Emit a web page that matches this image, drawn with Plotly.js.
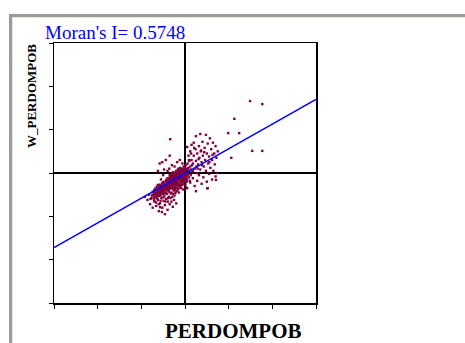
<!DOCTYPE html>
<html>
<head>
<meta charset="utf-8">
<script src="https://cdn.plot.ly/plotly-3.0.1.min.js"></script>
<style>
  html, body { margin: 0; padding: 0; background: #ffffff; }
  #wrap { position: relative; width: 465px; height: 343px; overflow: hidden; }
  #chart { position: absolute; left: 0; top: 0; width: 465px; height: 343px; }
  #frame { position: absolute; left: 9px; top: 14px; right: -10px; bottom: -10px;
           border-top: 3px solid #9a9a9a; border-left: 3px solid #9a9a9a; pointer-events: none; }
  #frame2 { position: absolute; left: 12px; top: 17px; right: -10px; bottom: -10px;
           border-top: 1px solid #e6e6dc; border-left: 1px solid #e6e6dc; pointer-events: none; }
</style>
</head>
<body>
<div id="wrap">
  <div id="chart"></div>
  <div id="frame"></div>
  <div id="frame2"></div>
</div>
<script>
// Standardized PERDOMPOB values (x) and their spatial lags W_PERDOMPOB (y)
var perdompob = [
  -0.42,-0.40,-0.38,-0.36,-0.35,-0.34,-0.33,-0.32,-0.31,-0.30,-0.29,-0.28,-0.27,-0.26,-0.25,-0.25,-0.24,-0.23,-0.22,-0.22,
  -0.21,-0.20,-0.20,-0.19,-0.18,-0.18,-0.17,-0.16,-0.16,-0.15,-0.15,-0.14,-0.13,-0.13,-0.12,-0.11,-0.11,-0.10,-0.10,-0.09,
  -0.08,-0.08,-0.07,-0.06,-0.06,-0.05,-0.05,-0.04,-0.03,-0.03,-0.02,-0.02,-0.01,0.00,0.00,0.01,0.02,0.02,0.03,0.04,
  0.05,0.05,0.06,0.07,0.08,0.09,0.10,0.10,0.12,0.13,0.14,0.15,0.16,0.17,0.18,-0.28,-0.24,-0.19,-0.14,-0.09,
  -0.04,0.02,-0.36,-0.30,-0.24,-0.18,-0.12,-0.06,
  -0.92,-0.86,-0.82,-0.80,-0.77,-0.74,-0.72,-0.70,-0.68,-0.66,-0.64,-0.62,-0.60,-0.59,-0.57,-0.56,-0.54,-0.52,-0.51,-0.49,
  -0.48,-0.47,-0.46,-0.45,-0.43,-0.42,-0.41,-0.40,-0.39,-0.37,-0.35,-0.33,-0.31,-0.28,-0.25,-0.20,-0.53,-0.46,-0.62,-0.55,
  -0.50,-0.58,-0.52,-0.44,-0.48,-0.40,-0.35,-0.62,
  -0.79,-0.75,-0.71,-0.69,-0.65,-0.63,-0.61,-0.58,-0.55,-0.53,-0.50,-0.47,-0.44,-0.43,-0.41,-0.38,-0.37,-0.34,-0.32,-0.29,
  -0.27,-0.26,-0.23,-0.21,-0.19,-0.17,-0.14,-0.12,-0.09,-0.07,-0.04,-0.02,0.01,0.03,0.06,-0.66,-0.60,-0.56,-0.49,-0.45,
  -0.39,-0.33,-0.29,-0.22,-0.16,-0.11,-0.05,0.00,0.04,-0.70,-0.52,-0.36,-0.27,-0.15,-0.08,0.07,0.11,
  -0.74,-0.74,-0.71,-0.71,-0.71,-0.68,-0.68,-0.68,-0.65,-0.65,-0.65,-0.63,-0.63,-0.63,-0.60,-0.60,-0.60,-0.60,
  -0.58,-0.58,-0.58,-0.55,-0.55,-0.55,-0.55,-0.53,-0.53,-0.53,-0.50,-0.50,-0.50,-0.50,-0.48,-0.48,-0.48,
  -0.45,-0.45,-0.45,-0.45,-0.43,-0.43,-0.43,-0.40,-0.40,-0.40,-0.40,-0.38,-0.38,-0.38,-0.35,-0.35,-0.35,-0.35,
  -0.33,-0.33,-0.33,-0.30,-0.30,-0.30,-0.30,-0.30,-0.28,-0.28,-0.28,-0.25,-0.25,-0.25,-0.25,
  -0.23,-0.23,-0.23,-0.23,-0.20,-0.20,-0.20,-0.20,-0.18,-0.18,-0.18,-0.15,-0.15,-0.15,-0.15,-0.15,
  -0.13,-0.13,-0.13,-0.10,-0.10,-0.10,-0.10,-0.08,-0.08,-0.08,-0.05,-0.05,-0.05,-0.05,-0.03,-0.03,-0.03,
  0.00,0.00,0.00,0.03,0.03,0.03,
  0.20,0.22,0.24,0.25,0.27,0.28,0.30,0.32,0.33,0.35,0.36,0.38,0.40,0.41,0.43,0.45,0.46,0.48,0.50,0.52,
  0.53,0.55,0.57,0.58,0.60,0.62,0.64,0.65,0.67,0.68,0.70,0.72,0.74,0.75,0.20,0.25,0.12,0.08,0.05,0.15,
  0.35,0.48,0.18,0.26,0.31,0.39,0.44,0.56,0.63,0.21,0.29,0.37,0.09,0.14,
  0.05,0.12,0.18,0.22,0.28,0.32,0.38,0.42,0.50,0.55,0.62,0.70,0.52,0.25,
  0.99,1.24,1.54,1.77,1.49,1.77,1.13,1.06,0.71,0.51,-0.34,-0.57
];
var wPerdompob = [
  -0.30,-0.18,-0.40,-0.25,-0.10,-0.33,-0.05,-0.20,-0.45,-0.28,-0.12,-0.36,0.02,-0.22,-0.08,-0.30,-0.15,-0.40,-0.02,-0.25,
  -0.10,-0.32,0.05,-0.18,-0.05,-0.28,-0.12,0.08,-0.22,-0.02,-0.35,-0.15,0.02,-0.08,-0.25,-0.12,0.12,-0.03,-0.20,-0.08,
  0.05,-0.15,-0.28,-0.05,0.10,-0.12,0.00,-0.20,-0.07,0.15,0.03,-0.14,-0.02,0.08,-0.10,-0.25,0.00,0.18,-0.06,0.10,
  -0.15,0.04,0.22,-0.03,0.12,-0.10,0.05,0.28,0.15,-0.05,0.08,0.30,0.18,0.02,0.22,-0.48,-0.52,-0.42,-0.45,-0.35,
  -0.38,-0.32,0.10,0.18,0.15,0.25,0.30,0.22,
  -0.55,-0.62,-0.50,-0.72,-0.58,-0.80,-0.45,-0.66,-0.54,-0.76,-0.40,-0.62,-0.88,-0.50,-0.70,-0.35,-0.58,-0.80,-0.45,-0.64,
  -0.28,-0.52,-0.74,-0.38,-0.60,-0.20,-0.48,-0.85,-0.66,-0.55,-0.72,-0.58,-0.66,-0.78,-0.62,-0.70,-0.90,-0.95,-0.28,-0.15,
  -0.05,0.22,0.25,0.30,0.08,0.05,0.40,0.05,
  -0.60,-0.52,-0.62,-0.48,-0.57,-0.44,-0.53,-0.40,-0.47,-0.36,-0.42,-0.33,-0.45,-0.28,-0.37,-0.30,-0.43,-0.22,-0.35,-0.18,
  -0.26,-0.40,-0.20,-0.35,-0.12,-0.24,-0.30,-0.08,-0.18,-0.22,-0.14,-0.04,-0.16,-0.09,-0.04,-0.68,-0.72,-0.64,-0.56,-0.66,
  -0.58,-0.47,-0.55,-0.46,-0.38,-0.30,-0.26,-0.18,-0.20,-0.40,-0.34,-0.14,-0.04,0.00,0.02,0.06,-0.18,
  -0.52,-0.44,-0.58,-0.40,-0.49,-0.46,-0.36,-0.55,-0.50,-0.42,-0.32,-0.60,-0.47,-0.38,-0.44,-0.34,-0.53,-0.27,
  -0.40,-0.48,-0.31,-0.45,-0.37,-0.28,-0.52,-0.41,-0.33,-0.24,-0.48,-0.38,-0.30,-0.21,-0.43,-0.34,-0.25,
  -0.46,-0.30,-0.20,-0.38,-0.35,-0.27,-0.16,-0.40,-0.31,-0.22,-0.12,-0.28,-0.19,-0.34,-0.37,-0.24,-0.15,-0.05,
  -0.29,-0.20,-0.11,-0.33,-0.23,-0.16,-0.06,0.00,-0.26,-0.18,-0.09,-0.21,-0.13,-0.04,-0.35,
  -0.27,-0.17,-0.08,0.00,-0.22,-0.14,-0.06,0.03,-0.19,-0.10,-0.01,-0.25,-0.16,-0.07,0.02,0.10,
  -0.12,-0.04,0.05,-0.17,-0.09,0.00,0.08,-0.13,-0.05,0.03,-0.08,0.01,0.09,-0.18,-0.11,-0.03,0.06,
  -0.05,0.03,0.12,-0.01,0.07,-0.12,
  0.40,0.10,0.55,0.28,0.00,0.45,0.20,0.62,0.35,0.08,0.50,0.25,0.72,0.40,0.15,0.58,0.30,0.05,0.45,0.68,
  0.22,0.38,0.80,0.12,0.55,0.30,0.70,0.05,0.45,0.20,0.62,0.35,0.00,0.50,0.70,0.85,0.50,0.40,0.60,0.65,
  0.90,0.88,0.05,0.15,0.32,0.18,0.48,0.25,0.42,0.58,0.10,0.52,0.30,0.45,
  -0.35,-0.22,-0.12,-0.30,-0.18,-0.05,-0.25,-0.10,-0.20,-0.02,-0.15,-0.08,-0.35,-0.42,
  0.92,0.92,0.51,0.51,1.66,1.59,1.25,0.35,-0.16,-0.35,0.78,-0.79
];
// Moran scatterplot regression line (slope = Moran's I)
var moranI = 0.5748;
var fitX = [-3, 3];
var fitY = [-1.72, 1.70];
var axisTicks = [-3, -2, -1, 0, 1, 2, 3];

var traces = [
  { type: 'scatter', mode: 'markers', x: perdompob, y: wPerdompob,
    marker: { symbol: 'square', size: 2.4, color: '#80003f', line: { width: 0 } },
    hoverinfo: 'skip', showlegend: false },
  { type: 'scatter', mode: 'lines', x: fitX, y: fitY,
    line: { color: '#0000ff', width: 1.4 }, hoverinfo: 'skip', showlegend: false }
];

var axisCommon = {
  range: [-3, 3], autorange: false, fixedrange: true,
  tickmode: 'array', tickvals: axisTicks, ticktext: axisTicks.map(function () { return ''; }),
  ticks: 'outside', ticklen: 4, tickwidth: 1, tickcolor: '#000000',
  showgrid: false, zeroline: true, zerolinecolor: '#000000', zerolinewidth: 1.5,
  showline: true, linecolor: '#000000', linewidth: 1.5, mirror: true
};

var serif = 'Liberation Serif, Times New Roman, serif';
var layout = {
  width: 465, height: 343,
  margin: { l: 54, r: 149, t: 43, b: 40, pad: 0 },
  paper_bgcolor: '#ffffff', plot_bgcolor: '#ffffff',
  xaxis: Object.assign({}, axisCommon),
  yaxis: Object.assign({}, axisCommon),
  annotations: [
    { text: "Moran's I= " + moranI.toFixed(4), xref: 'paper', yref: 'paper',
      x: (43 - 54) / 262, y: (303 - 33) / 260, xanchor: 'left', yanchor: 'middle', showarrow: false,
      font: { family: serif, size: 19, color: '#0000ff' } },
    { text: 'W_PERDOMPOB', xref: 'paper', yref: 'paper', x: (31 - 54) / 262, y: (303 - 96) / 260,
      textangle: -90, showarrow: false, xanchor: 'center', yanchor: 'middle',
      font: { family: serif, size: 13, weight: 'bold', color: '#000000' } },
    { text: 'PERDOMPOB', xref: 'paper', yref: 'paper', x: (233 - 54) / 262, y: (303 - 331) / 260,
      showarrow: false, xanchor: 'center', yanchor: 'middle',
      font: { family: serif, size: 21, weight: 'bold', color: '#000000' } }
  ],
  showlegend: false
};

Plotly.newPlot('chart', traces, layout, { staticPlot: true, displayModeBar: false });
</script>
</body>
</html>
